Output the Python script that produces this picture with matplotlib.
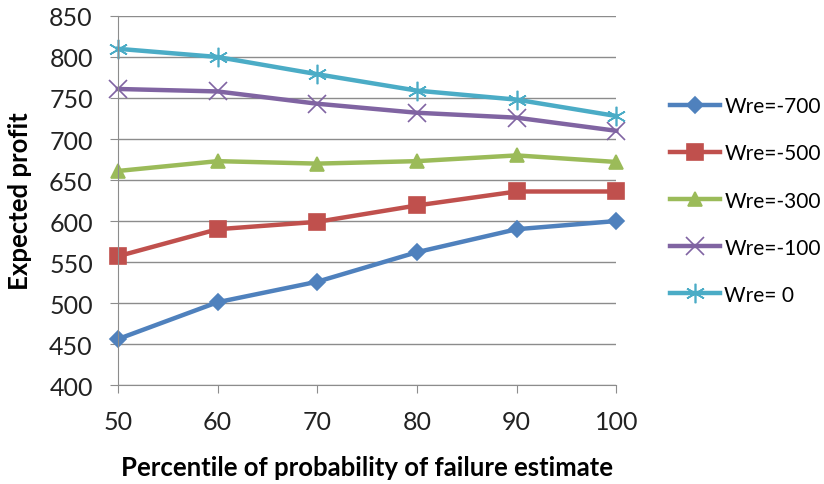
import matplotlib.pyplot as plt

percentiles = [50, 60, 70, 80, 90, 100]
wre_700 = [456, 501, 526, 562, 590, 600]
wre_500 = [557, 590, 599, 619, 636, 636]
wre_300 = [661, 673, 670, 673, 680, 672]
wre_100 = [761, 758, 743, 732, 726, 710]
wre_0 = [810, 800, 779, 759, 748, 728]
labels = ["Wre=-700", "Wre=-500", "Wre=-300", "Wre=-100", "Wre= 0"]

plt.rcParams['font.family'] = ['Lato', 'DejaVu Sans']

fig = plt.figure(figsize=(8.24, 4.85), dpi=100)
ax = fig.add_axes([0.143, 0.204, 0.605, 0.761])

series = [wre_700, wre_500, wre_300, wre_100, wre_0]
colours = ["#4F81BD", "#C0504D", "#9BBB59", "#8064A2", "#4BACC6"]
markers = ["D", "s", "^", "x", (6, 2, 0)]
msizes = [8, 11, 10, 13, 14]
for vals, lab, col, mk, ms in zip(series, labels, colours, markers, msizes):
    ax.plot(percentiles, vals, color=col, lw=3.2, marker=mk, ms=ms, mew=1.2,
            label=lab, clip_on=False)

ax.set_xlim(50, 100)
ax.set_ylim(400, 850)
ax.set_xticks(percentiles)
ax.set_yticks(range(400, 851, 50))
ax.yaxis.grid(True, color="#8c8c8c", lw=1)
ax.set_axisbelow(True)
for s in ("top", "right"):
    ax.spines[s].set_visible(False)
for s in ("left", "bottom"):
    ax.spines[s].set_color("#8c8c8c")
ax.tick_params(axis="both", colors="#8c8c8c", length=6, labelsize=18, labelcolor="#222222")
ax.tick_params(axis="y", pad=12)
ax.tick_params(axis="x", pad=12)

ax.set_xlabel("Percentile of probability of failure estimate", fontsize=18.5,
              fontweight="bold")
ax.set_ylabel("Expected profit", fontsize=18.5, fontweight="bold")
ax.xaxis.set_label_coords(0.5, -0.19)
ax.yaxis.set_label_coords(-0.172, 0.5)

ax.legend(loc="center left", bbox_to_anchor=(1.108, 0.5), frameon=False,
          fontsize=15, handlelength=2.4, labelspacing=1.3, handletextpad=0.2,
          borderaxespad=0, borderpad=0)

fig.savefig("out.png", dpi=100)
